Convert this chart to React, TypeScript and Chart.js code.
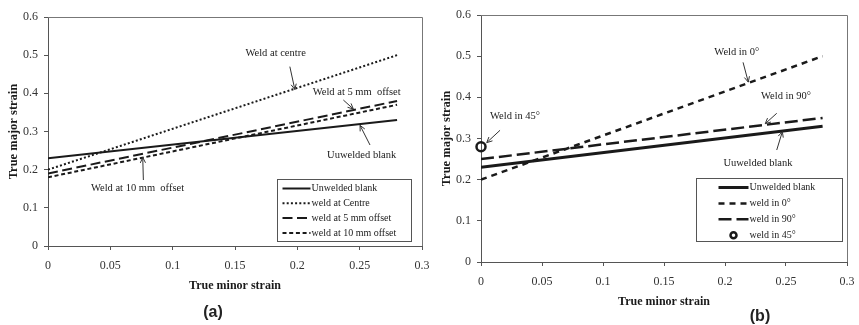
import { useEffect, useRef } from 'react';
import { Chart, registerables } from 'chart.js';

Chart.register(...registerables);

// Panel (a): forming limit lines for the welded-blank positions
const minorStrainA = [0, 0.28];
const unweldedA = [0.23, 0.33];
const weldCentreA = [0.2, 0.5];
const weld5mmA = [0.19, 0.38];
const weld10mmA = [0.18, 0.37];

// Panel (b): forming limit lines for the weld orientations
const minorStrainB = [0, 0.28];
const unweldedB = [0.23, 0.33];
const weld0B = [0.2, 0.5];
const weld90B = [0.25, 0.35];
const weld45X = [0];
const weld45Y = [0.28];

const SERIF = '"Liberation Serif", "Times New Roman", serif';
const INK = '#1a1a1a';

type Note = { text: string; tx: number; ty: number; ax0: number; ay0: number; ax1: number; ay1: number };
type LegendCfg = { right: number; bottom: number; width: number; height: number; rowTop: number; rowGap: number; sampleX: number; sampleW: number; textX: number };
type PanelCfg = { notes: Note[]; legend: LegendCfg; tag: string; tagX: number; tagY: number };

const notesA: Note[] = [
  { text: 'Weld at centre', tx: 0.1826, ty: 0.505, ax0: 0.194, ay0: 0.47, ax1: 0.198, ay1: 0.41 },
  { text: 'Weld at 5 mm  offset', tx: 0.2476, ty: 0.402, ax0: 0.2369, ay0: 0.3825, ax1: 0.2449, ay1: 0.359 },
  { text: 'Uuwelded blank', tx: 0.2516, ty: 0.2384, ax0: 0.2583, ay0: 0.2646, ax1: 0.2503, ay1: 0.316 },
  { text: 'Weld at 10 mm  offset', tx: 0.0718, ty: 0.151, ax0: 0.0765, ay0: 0.1729, ax1: 0.076, ay1: 0.232 },
];

const notesB: Note[] = [
  { text: 'Weld in 0°', tx: 0.2096, ty: 0.51, ax0: 0.2148, ay0: 0.485, ax1: 0.2191, ay1: 0.437 },
  { text: 'Weld in 90°', tx: 0.25, ty: 0.403, ax0: 0.2424, ay0: 0.3612, ax1: 0.233, ay1: 0.336 },
  { text: 'Uuwelded blank', tx: 0.227, ty: 0.2397, ax0: 0.2424, ay0: 0.272, ax1: 0.247, ay1: 0.3165 },
  { text: 'Weld in 45°', tx: 0.0279, ty: 0.353, ax0: 0.0156, ay0: 0.32, ax1: 0.0047, ay1: 0.29 },
];

const toPoints = (xs: number[], ys: number[]) => xs.map((x, i) => ({ x, y: ys[i] }));
const fmt = (v: number | string) => String(Math.round(Number(v) * 100) / 100);

function drawArrow(ctx: CanvasRenderingContext2D, x0: number, y0: number, x1: number, y1: number) {
  ctx.beginPath();
  ctx.moveTo(x0, y0);
  ctx.lineTo(x1, y1);
  const ang = Math.atan2(y1 - y0, x1 - x0);
  const len = 6;
  const spread = 0.45;
  ctx.moveTo(x1 - len * Math.cos(ang - spread), y1 - len * Math.sin(ang - spread));
  ctx.lineTo(x1, y1);
  ctx.lineTo(x1 - len * Math.cos(ang + spread), y1 - len * Math.sin(ang + spread));
  ctx.stroke();
}

function makeDecor(cfg: PanelCfg) {
  return {
    id: 'decor',
    afterDraw(chart: any) {
      const { ctx, chartArea: ca, scales } = chart;
      const sx = scales.x;
      const sy = scales.y;
      ctx.save();

      // top and right edges of the plot frame
      ctx.strokeStyle = '#777';
      ctx.lineWidth = 1;
      ctx.setLineDash([]);
      ctx.beginPath();
      ctx.moveTo(ca.left, Math.round(ca.top) + 0.5);
      ctx.lineTo(Math.round(ca.right) + 0.5, Math.round(ca.top) + 0.5);
      ctx.lineTo(Math.round(ca.right) + 0.5, ca.bottom);
      ctx.stroke();

      // callout labels with arrows
      ctx.font = `10.5px ${SERIF}`;
      ctx.fillStyle = INK;
      ctx.strokeStyle = '#333';
      ctx.lineWidth = 1;
      ctx.textAlign = 'center';
      ctx.textBaseline = 'middle';
      for (const n of cfg.notes) {
        ctx.fillText(n.text, sx.getPixelForValue(n.tx), sy.getPixelForValue(n.ty));
        drawArrow(ctx, sx.getPixelForValue(n.ax0), sy.getPixelForValue(n.ay0), sx.getPixelForValue(n.ax1), sy.getPixelForValue(n.ay1));
      }

      // legend box inside the plot
      const lg = cfg.legend;
      const bx = Math.round(ca.right - lg.right - lg.width) + 0.5;
      const by = Math.round(ca.bottom - lg.bottom - lg.height) + 0.5;
      ctx.fillStyle = '#fff';
      ctx.fillRect(bx, by, lg.width, lg.height);
      ctx.strokeStyle = '#555';
      ctx.lineWidth = 1;
      ctx.strokeRect(bx, by, lg.width, lg.height);
      ctx.textAlign = 'left';
      ctx.font = `10px ${SERIF}`;
      chart.data.datasets.forEach((ds: any, i: number) => {
        const ry = by + lg.rowTop + i * lg.rowGap;
        if (ds.showLine === false) {
          ctx.setLineDash([]);
          ctx.lineWidth = ds.pointBorderWidth;
          ctx.strokeStyle = ds.pointBorderColor;
          ctx.beginPath();
          ctx.arc(bx + lg.sampleX + lg.sampleW / 2, ry, 3, 0, Math.PI * 2);
          ctx.stroke();
        } else {
          ctx.setLineDash(ds.borderDash || []);
          ctx.lineWidth = ds.borderWidth;
          ctx.strokeStyle = ds.borderColor;
          ctx.beginPath();
          ctx.moveTo(bx + lg.sampleX, ry);
          ctx.lineTo(bx + lg.sampleX + lg.sampleW, ry);
          ctx.stroke();
        }
        ctx.setLineDash([]);
        ctx.fillStyle = INK;
        ctx.fillText(ds.label, bx + lg.textX, ry);
      });

      // panel tag
      ctx.font = 'bold 16px "Liberation Sans", Arial, sans-serif';
      ctx.textAlign = 'center';
      ctx.fillStyle = '#222';
      ctx.fillText(cfg.tag, cfg.tagX, cfg.tagY);

      ctx.restore();
    },
  };
}

function axisOptions(yWidth: number, xHeight: number, yTitlePad: number, xTitlePad: number) {
  const tickFont = { family: SERIF, size: 12 };
  const titleFont = { family: SERIF, size: 12, weight: 'bold' as const };
  return {
    x: {
      type: 'linear' as const,
      min: 0,
      max: 0.3,
      ticks: { stepSize: 0.05, font: tickFont, color: '#333', padding: 9, maxRotation: 0, callback: fmt },
      grid: { drawOnChartArea: false, tickLength: 4, color: '#555' },
      border: { color: '#555', width: 1 },
      title: { display: true, text: 'True minor strain', font: titleFont, color: INK, padding: { top: 0, bottom: xTitlePad } },
      afterFit: (s: any) => {
        s.height = xHeight;
        // let the layout padding alone decide the plot's side edges
        s.paddingLeft = 0;
        s.paddingRight = 0;
      },
    },
    y: {
      type: 'linear' as const,
      min: 0,
      max: 0.6,
      ticks: { stepSize: 0.1, font: tickFont, color: '#333', padding: 6, callback: fmt },
      grid: { drawOnChartArea: false, tickLength: 4, color: '#555' },
      border: { color: '#555', width: 1 },
      title: { display: true, text: 'True major strain', font: { ...titleFont, size: 12.5 }, color: INK, padding: { top: yTitlePad, bottom: 0 } },
      afterFit: (s: any) => {
        s.width = yWidth;
        s.paddingTop = 0;
        s.paddingBottom = 0;
      },
    },
  };
}

function lineSet(label: string, xs: number[], ys: number[], width: number, dash: number[]) {
  return {
    label,
    data: toPoints(xs, ys),
    showLine: true,
    borderColor: INK,
    backgroundColor: INK,
    borderWidth: width,
    borderDash: dash,
    pointRadius: 0,
    tension: 0,
    fill: false,
  };
}

function PanelA() {
  const ref = useRef<HTMLCanvasElement>(null);
  useEffect(() => {
    if (!ref.current) return;
    const chart = new Chart(ref.current, {
      type: 'scatter',
      data: {
        datasets: [
          lineSet('Unwelded blank', minorStrainA, unweldedA, 2, []),
          lineSet('weld at Centre', minorStrainA, weldCentreA, 2, [2, 2.2]),
          lineSet('weld at 5 mm offset', minorStrainA, weld5mmA, 2, [10, 4.5]),
          lineSet('weld at 10 mm offset', minorStrainA, weld10mmA, 2, [4, 2.7]),
        ],
      },
      options: {
        responsive: false,
        animation: false,
        devicePixelRatio: 1,
        layout: { padding: { top: 17, right: 8, bottom: 0, left: 0 } },
        plugins: { legend: { display: false }, tooltip: { enabled: false } },
        scales: axisOptions(48, 79, 5.8, 31.8),
      },
      plugins: [makeDecor({
        notes: notesA,
        legend: { right: 11, bottom: 5, width: 134, height: 62, rowTop: 9, rowGap: 14.8, sampleX: 5, sampleW: 28, textX: 34 },
        tag: '(a)', tagX: 213, tagY: 313,
      })],
    } as any);
    return () => chart.destroy();
  }, []);
  return <canvas ref={ref} width={430} height={325} style={{ position: 'absolute', left: 0, top: 0, width: 430, height: 325 }} />;
}

function PanelB() {
  const ref = useRef<HTMLCanvasElement>(null);
  useEffect(() => {
    if (!ref.current) return;
    const chart = new Chart(ref.current, {
      type: 'scatter',
      data: {
        datasets: [
          lineSet('Unwelded blank', minorStrainB, unweldedB, 3, []),
          lineSet('weld in 0°', minorStrainB, weld0B, 2.5, [6, 5]),
          lineSet('weld in 90°', minorStrainB, weld90B, 2.5, [13, 5]),
          {
            label: 'weld in 45°',
            data: toPoints(weld45X, weld45Y),
            showLine: false,
            clip: false,
            pointRadius: 4.5,
            pointBorderWidth: 2.5,
            pointBorderColor: INK,
            pointBackgroundColor: 'rgba(255,255,255,0)',
            borderColor: INK,
            backgroundColor: 'rgba(255,255,255,0)',
          },
        ],
      },
      options: {
        responsive: false,
        animation: false,
        devicePixelRatio: 1,
        layout: { padding: { top: 15, right: 12, bottom: 0, left: 0 } },
        plugins: { legend: { display: false }, tooltip: { enabled: false } },
        scales: axisOptions(51, 63, 9.6, 15.8),
      },
      plugins: [makeDecor({
        notes: notesB,
        legend: { right: 5, bottom: 21, width: 146, height: 63, rowTop: 9, rowGap: 15.9, sampleX: 22, sampleW: 30, textX: 53 },
        tag: '(b)', tagX: 330, tagY: 317,
      })],
    } as any);
    return () => chart.destroy();
  }, []);
  return <canvas ref={ref} width={429} height={325} style={{ position: 'absolute', left: 430, top: 0, width: 429, height: 325 }} />;
}

export default function App() {
  return (
    <div style={{ position: 'absolute', left: 0, top: 0, width: 859, height: 325, background: '#fff', overflow: 'hidden' }}>
      <PanelA />
      <PanelB />
    </div>
  );
}
